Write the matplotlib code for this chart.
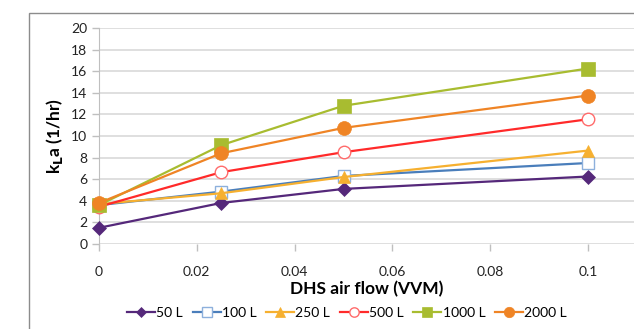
import numpy as np
import matplotlib
matplotlib.use("Agg")
import matplotlib.pyplot as plt
from matplotlib.patches import Rectangle

plt.rcParams['font.family'] = ['Lato', 'DejaVu Sans']

# Data
air_flow = [0, 0.025, 0.05, 0.1]
kla_50 = [1.5, 3.8, 5.1, 6.25]
kla_100 = [3.6, 4.85, 6.3, 7.5]
kla_250 = [3.7, 4.7, 6.2, 8.65]
kla_500 = [3.45, 6.65, 8.5, 11.55]
kla_1000 = [3.6, 9.15, 12.8, 16.25]
kla_2000 = [3.8, 8.4, 10.75, 13.75]

series = [
    ("50 L", kla_50, "#55287a", "D", "#55287a", 7),
    ("100 L", kla_100, "#4a7ebb", "s", "white", 9),
    ("250 L", kla_250, "#f6b030", "^", "#f6b030", 9),
    ("500 L", kla_500, "#ff2a2a", "o", "white", 9),
    ("1000 L", kla_1000, "#a8bc30", "s", "#a8bc30", 10),
    ("2000 L", kla_2000, "#ef8425", "o", "#ef8425", 10),
]
marker_edges = {"100 L": "#8db0dc", "500 L": "#ff6b6b"}

fig = plt.figure(figsize=(6.34, 3.29), dpi=100)
W, H = 634, 329
# chart area border (cropped on right and bottom)
fig.patches.append(Rectangle((29 / W, -0.1), 1.0, 1 - 13 / H + 0.1,
                             transform=fig.transFigure, fill=False,
                             edgecolor="#8c8c8c", linewidth=1.0))

ax = fig.add_axes([99 / W, 1 - 244 / H, 1 - 99 / W, (244 - 28) / H])
ax.set_xlim(0, (W - 99) / 4890)
ax.set_ylim(0, 20)

for name, vals, col, mk, face, ms in series:
    ax.plot(air_flow, vals, color=col, linewidth=1.6, marker=mk,
            markersize=ms, markerfacecolor=face,
            markeredgecolor=marker_edges.get(name, col),
            markeredgewidth=1.0 if face == "white" else 0.5,
            label=name, clip_on=False, zorder=3)

ax.set_yticks(np.arange(0, 21, 2))
ax.set_xticks([0, 0.02, 0.04, 0.06, 0.08, 0.1])
ax.set_xticklabels(["0", "0.02", "0.04", "0.06", "0.08", "0.1"])
ax.grid(axis="y", color="#d9d9d9", linewidth=1.2)
ax.set_axisbelow(True)
for s in ["top", "right", "bottom"]:
    ax.spines[s].set_visible(False)
ax.spines["left"].set_color("#bfbfbf")
ax.tick_params(axis="both", colors="#bfbfbf", labelcolor="#222222",
               labelsize=10, length=5, width=1)
ax.tick_params(axis="x", pad=11)

ax.set_xlabel("DHS air flow (VVM)", fontsize=12.5, fontweight="bold",
              labelpad=2)
ax.set_ylabel("k$_\\mathbf{L}$a (1/hr)", fontsize=12.5, fontweight="bold",
              labelpad=4)

ax.legend(loc="upper center", bbox_to_anchor=(347 / W, 0.105),
          bbox_transform=fig.transFigure, ncol=6, frameon=False,
          fontsize=10, handlelength=2.0, handletextpad=0.1,
          columnspacing=0.7, markerscale=0.75)

fig.savefig("out.png", dpi=100)
